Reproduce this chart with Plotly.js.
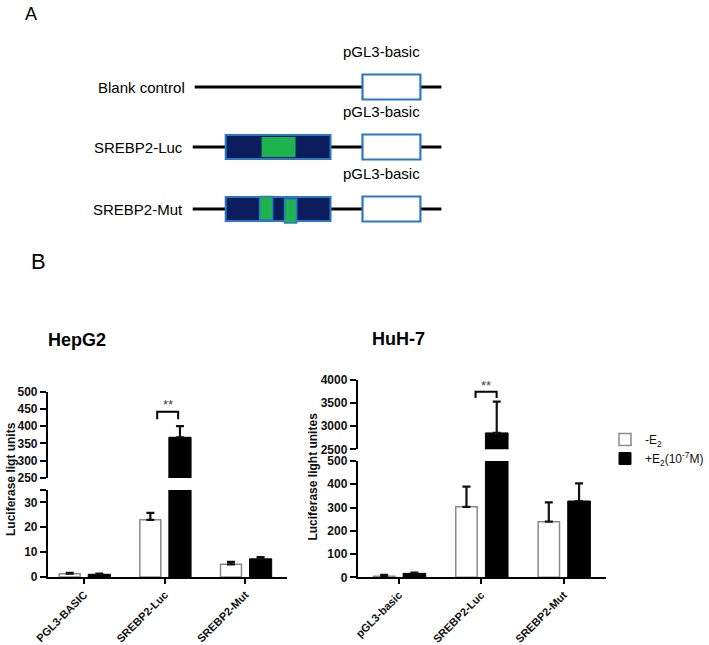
<!DOCTYPE html>
<html>
<head>
<meta charset="utf-8">
<script src="https://cdn.plot.ly/plotly-3.0.1.min.js"></script>
<style>html,body{margin:0;padding:0;background:#fff;}#chart{width:709px;height:645px;}</style>
</head>
<body>
<div id="chart"></div>
<script>
// ---------------- data ----------------
const categoriesHepG2 = ['PGL3-BASIC', 'SREBP2-Luc', 'SREBP2-Mut'];
const hepg2Minus = [1.3, 23, 5.1];
const hepg2MinusErr = [0.4, 2.8, 1.0];
const hepg2Plus = [1.1, 368, 7.3];
const hepg2PlusErr = [0.3, 32, 0.7];

const categoriesHuh7 = ['pGL3-basic', 'SREBP2-Luc', 'SREBP2-Mut'];
const huh7Minus = [4, 303, 239];
const huh7MinusErr = [6, 87, 83];
const huh7Plus = [17, 2855, 328];
const huh7PlusErr = [3, 675, 76];

const seriesNames = ['-E<sub>2</sub>', '+E<sub>2</sub>(10<sup>-7</sup>M)'];
const hepg2Ticks = [0, 10, 20, 30, 35];
const hepg2TickText = ['0', '10', '20', '30', ''];
const hepg2UpperTicks = [250, 300, 350, 400, 450, 500];
const huh7Ticks = [0, 100, 200, 300, 400, 500];
const huh7UpperTicks = [2500, 3000, 3500, 4000];

const constructs = ['Blank control', 'SREBP2-Luc', 'SREBP2-Mut'];
const vectorName = 'pGL3-basic';

// ---------------- helpers ----------------
const W = 709, H = 645;
const FONT = 'Liberation Sans, Arial, sans-serif';
const px = x => x / W;
const py = y => 1 - y / H;

function barTrace(xs, ys, errs, isPlus, xa, ya, show) {
  return {
    type: 'bar', x: xs, y: ys, xaxis: xa, yaxis: ya,
    name: isPlus ? seriesNames[1] : seriesNames[0],
    showlegend: show, legendgroup: isPlus ? 'p' : 'm',
    offset: isPlus ? 0.05 : -0.31, width: isPlus ? 0.275 : 0.26,
    marker: { color: isPlus ? '#000' : '#fff', line: { color: isPlus ? '#000' : '#8a8a8a', width: isPlus ? 1 : 1.5 } },
    error_y: { type: 'data', array: errs, arrayminus: errs.map(() => 0), symmetric: false, color: '#111', thickness: 2.2, width: 4 },
    hoverinfo: 'skip'
  };
}

const traces = [
  barTrace(categoriesHepG2, hepg2Minus, hepg2MinusErr, false, 'x', 'y', true),
  barTrace(categoriesHepG2, hepg2Plus, hepg2PlusErr, true, 'x', 'y', true),
  barTrace(categoriesHepG2, hepg2Minus, hepg2MinusErr, false, 'x', 'y2', false),
  barTrace(categoriesHepG2, hepg2Plus, hepg2PlusErr, true, 'x', 'y2', false),
  barTrace(categoriesHuh7, huh7Minus, huh7MinusErr, false, 'x2', 'y3', false),
  barTrace(categoriesHuh7, huh7Plus, huh7PlusErr, true, 'x2', 'y3', false),
  barTrace(categoriesHuh7, huh7Minus, huh7MinusErr, false, 'x2', 'y4', false),
  barTrace(categoriesHuh7, huh7Plus, huh7PlusErr, true, 'x2', 'y4', false)
];

const tickFontY = { family: FONT, size: 12, color: '#111', weight: 'bold' };
const tickFontX = { family: FONT, size: 11, color: '#111', weight: 'bold' };

function yAx(domain, range, tickvals, ticktext, anchor) {
  return {
    domain: domain, range: range, anchor: anchor, tickmode: 'array', tickvals: tickvals,
    ticktext: ticktext || tickvals.map(String),
    showline: true, linecolor: '#000', linewidth: 2, ticks: 'outside', ticklen: 6, tickwidth: 2,
    tickcolor: '#000', showgrid: false, zeroline: false, tickfont: tickFontY, fixedrange: true
  };
}
function xAx(domain, range, anchor) {
  return {
    domain: domain, range: range, anchor: anchor, type: 'category', tickangle: -45,
    showline: true, linecolor: '#000', linewidth: 2, ticks: 'outside', ticklen: 5, tickwidth: 2,
    tickcolor: '#000', showgrid: false, zeroline: false, tickfont: tickFontX, fixedrange: true
  };
}

// ---------------- diagram (panel A) ----------------
const NAVY = '#0b1d5c', GREEN = '#1db34e', BLUE = '#2b79c4';
const rowY = [87, 147, 209];
const lineStart = [195, 193, 193];
const lineEnd = 442;
const vecBox = [363, 421];
const promBox = [226, 331];
const shapes = [];
const annotations = [];
const rect = (x0, x1, y0, y1, fill, line, lw) => shapes.push({ type: 'rect', xref: 'x3', yref: 'y5', x0, x1, y0, y1, fillcolor: fill, line: { color: line, width: lw }, layer: 'above' });
constructs.forEach((name, i) => {
  const y = rowY[i];
  shapes.push({ type: 'line', xref: 'x3', yref: 'y5', x0: lineStart[i], x1: lineEnd, y0: y, y1: y, line: { color: '#000', width: 3 }, layer: 'above' });
  if (i > 0) {
    rect(promBox[0], promBox[1], y - 12, y + 12, NAVY, BLUE, 2);
    if (i === 1) {
      rect(262, 296, y - 10, y + 10, GREEN, GREEN, 0);
    } else {
      rect(260, 273, y - 12.5, y + 11, GREEN, BLUE, 1.6);
      rect(285, 297, y - 10, y + 14, GREEN, BLUE, 1.6);
    }
  }
  rect(vecBox[0], vecBox[1], y - 12.5, y + 12.5, '#fff', BLUE, 2.2);
  annotations.push({ xref: 'x3', yref: 'y5', x: lineStart[i] - 8, y: y, text: name, showarrow: false, xanchor: 'right', yanchor: 'middle', font: { family: FONT, size: 15, color: '#000' } });
  annotations.push({ xref: 'x3', yref: 'y5', x: 382, y: y - 36, text: vectorName, showarrow: false, xanchor: 'center', yanchor: 'middle', font: { family: FONT, size: 15, color: '#000' } });
});
const cm = { showarrow: false, xanchor: 'center', yanchor: 'middle' };
annotations.push(Object.assign({ xref: 'paper', yref: 'paper', x: px(31), y: py(14), text: 'A', font: { family: FONT, size: 18, color: '#000' } }, cm));
annotations.push(Object.assign({ xref: 'paper', yref: 'paper', x: px(39), y: py(261), text: 'B', font: { family: FONT, size: 22, color: '#000' } }, cm));

// ---------------- panel B decorations ----------------
annotations.push(Object.assign({ xref: 'paper', yref: 'paper', x: px(77), y: py(340), text: '<b>HepG2</b>', font: { family: FONT, size: 18, color: '#000' } }, cm));
annotations.push(Object.assign({ xref: 'paper', yref: 'paper', x: px(399), y: py(339), text: '<b>HuH-7</b>', font: { family: FONT, size: 18, color: '#000' } }, cm));
annotations.push(Object.assign({ xref: 'paper', yref: 'paper', x: px(11), y: py(479), text: '<b>Luciferase ligt units</b>', textangle: -90, font: { family: FONT, size: 12, color: '#111' } }, cm));
annotations.push(Object.assign({ xref: 'paper', yref: 'paper', x: px(313), y: py(477), text: '<b>Luciferase light unites</b>', textangle: -90, font: { family: FONT, size: 12, color: '#111' } }, cm));

// significance brackets
shapes.push({ type: 'path', xref: 'x', yref: 'y2', path: 'M0.905,420 L0.905,442 L1.165,442 L1.165,420', line: { color: '#000', width: 2 } });
annotations.push(Object.assign({ xref: 'x', yref: 'y2', x: 1.035, y: 462, text: '**', font: { family: FONT, size: 13, color: '#444' } }, cm));
shapes.push({ type: 'path', xref: 'x2', yref: 'y4', path: 'M0.93,3610 L0.93,3747 L1.186,3747 L1.186,3610', line: { color: '#000', width: 2 } });
annotations.push(Object.assign({ xref: 'x2', yref: 'y4', x: 1.058, y: 3885, text: '**', font: { family: FONT, size: 13, color: '#444' } }, cm));

const layout = {
  width: W, height: H, margin: { l: 0, r: 0, t: 0, b: 0 },
  paper_bgcolor: '#fff', plot_bgcolor: 'rgba(0,0,0,0)',
  barmode: 'overlay', showlegend: true,
  legend: { x: px(606), y: py(425), xanchor: 'left', yanchor: 'top', font: { family: FONT, size: 12, color: '#111' }, bgcolor: 'rgba(0,0,0,0)', tracegroupgap: 0, itemwidth: 30 },
  xaxis: xAx([px(48), px(287)], [-0.45, 2.51], 'y'),
  yaxis: yAx([py(577), py(490)], [0, 35], hepg2Ticks, hepg2TickText, 'x'),
  yaxis2: yAx([py(478), py(391.7)], [250, 500], hepg2UpperTicks, null, 'x'),
  xaxis2: xAx([px(358.3), px(607.3)], [-0.5, 2.52], 'y3'),
  yaxis3: yAx([py(577.3), py(461)], [0, 500], huh7Ticks, null, 'x2'),
  yaxis4: yAx([py(449.3), py(380)], [2500, 4000], huh7UpperTicks, null, 'x2'),
  xaxis3: { domain: [0, 1], range: [0, W], visible: false, fixedrange: true, anchor: 'y5' },
  yaxis5: { domain: [py(240), 1], range: [240, 0], visible: false, fixedrange: true, anchor: 'x3' },
  shapes: shapes, annotations: annotations
};

Plotly.newPlot('chart', traces, layout, { displayModeBar: false, staticPlot: true });
</script>
</body>
</html>
